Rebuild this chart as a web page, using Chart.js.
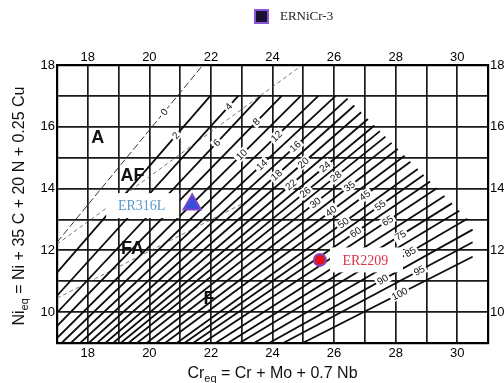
<!DOCTYPE html>
<html>
<head>
<meta charset="utf-8">
<script src="https://cdn.jsdelivr.net/npm/chart.js@4.4.1/dist/chart.umd.min.js"></script>
<style>
  html, body { margin: 0; padding: 0; background: #fff; }
  #wrap { width: 504px; height: 383px; }
</style>
</head>
<body>
<div id="wrap"><canvas id="chart" width="504" height="383"></canvas></div>
<script>
// Iso-ferrite lines (FN), each given by its lower and upper end (Cr_eq, Ni_eq)
const fnValues = [0, 2, 4, 6, 8, 10, 12, 14, 16, 18, 20, 22, 24, 26, 28, 30, 35, 40, 45, 50, 55, 60, 65, 70, 75, 80, 85, 90, 95, 100];
const lowCr  = [17, 17, 17, 17, 17, 17, 17.15, 17.45, 17.75, 18.03, 18.30, 18.57, 18.82, 19.07, 19.32, 19.60, 19.91, 20.22, 20.51, 20.89, 21.14, 21.42, 21.74, 22.15, 22.55, 22.93, 23.40, 23.89, 24.35, 24.98];
const lowNi  = [12.26, 11.28, 10.53, 9.98, 9.55, 9.16, 9, 9, 9, 9, 9, 9, 9, 9, 9, 9, 9, 9, 9, 9, 9, 9, 9, 9, 9, 9, 9, 9, 9, 9];
const highCr = [21.74, 21.98, 22.89, 23.62, 24.30, 24.92, 25.49, 26.05, 26.44, 26.66, 26.88, 27.10, 27.31, 27.49, 27.67, 27.87, 28.07, 28.29, 28.48, 28.72, 28.91, 29.12, 29.34, 29.59, 29.83, 30.07, 30.33, 30.50, 30.50, 30.50];
const highNi = [18, 17, 17, 17, 17, 17, 17, 17, 16.91, 16.69, 16.47, 16.25, 16.04, 15.86, 15.68, 15.48, 15.28, 15.06, 14.87, 14.63, 14.44, 14.23, 14.01, 13.76, 13.52, 13.28, 13.02, 12.67, 12.26, 11.79];

// Where the FN numbers sit along their lines (Cr_eq)
const labelFn = [0, 2, 4, 6, 8, 10, 12, 14, 16, 18, 20, 22, 24, 26, 28, 30, 35, 40, 45, 50, 55, 60, 65, 75, 85, 90, 95, 100];
const labelCr = [20.48, 20.86, 22.58, 22.19, 23.48, 23.0, 24.13, 23.65, 24.74, 24.13, 25.0, 24.6, 25.7, 25.06, 26.06, 25.39, 26.5, 25.9, 27.0, 26.3, 27.5, 26.7, 27.74, 28.16, 28.48, 27.58, 28.77, 28.13];

// Solidification mode boundaries (dashed)
const boundaryCr = [[17, 24.9], [17, 23.2]];
const boundaryNi = [[12.2, 17.95], [10.45, 13.6]];

// Region names
const regionText = ['A', 'AF', 'FA', 'F'];
const regionCr = [18.32, 19.45, 19.45, 21.94];
const regionNi = [15.65, 14.39, 12.03, 10.42];

// Filler metals
const er316L = { cr: 21.39, ni: 13.48 };
const er2209 = { cr: 25.54, ni: 11.69 };

// Axes
const crMin = 17, crMax = 31, niMin = 9, niMax = 18;
const crLabels = [18, 20, 22, 24, 26, 28, 30];
const niLabels = [10, 12, 14, 16, 18];

const sansFont = '"Liberation Sans", Arial, sans-serif';
const serifFont = '"Liberation Serif", "Times New Roman", serif';

const datasets = [
    {
        label: 'ER316L',
        data: [{ x: er316L.cr, y: er316L.ni }],
        pointStyle: 'triangle',
        pointRadius: 10,
        backgroundColor: '#3350d8',
        borderColor: '#7c44c8',
        borderWidth: 2,
        boxText: '#5a98c9',
        boxSide: 'left'
    },
    {
        label: 'ER2209',
        data: [{ x: er2209.cr, y: er2209.ni }],
        pointStyle: 'circle',
        pointRadius: 6,
        backgroundColor: '#e8101f',
        borderColor: '#7e4cb8',
        borderWidth: 2,
        boxText: '#d8344a',
        boxSide: 'right'
    },
    {
        label: 'ERNiCr-3',
        data: [],
        pointStyle: 'rect',
        backgroundColor: '#1b1030',
        borderColor: '#8c55d8',
        borderWidth: 2,
        inLegend: true
    }
];

fnValues.forEach((fn, i) => {
    datasets.push({
        label: 'FN ' + fn,
        data: [{ x: lowCr[i], y: lowNi[i] }, { x: highCr[i], y: highNi[i] }],
        showLine: true,
        borderColor: fn === 0 ? '#333' : '#0c0c0c',
        borderWidth: fn === 0 ? 1 : 1.8,
        borderDash: fn === 0 ? [7, 3] : [],
        pointRadius: 0
    });
});

boundaryCr.forEach((crs, i) => {
    datasets.push({
        label: 'boundary ' + i,
        data: [{ x: crs[0], y: boundaryNi[i][0] }, { x: crs[1], y: boundaryNi[i][1] }],
        showLine: true,
        borderColor: '#555',
        borderWidth: 0.8,
        borderDash: [4, 3],
        pointRadius: 0
    });
});

function axis(position, min, max, labels, extra) {
    return Object.assign({
        type: 'linear',
        position: position,
        min: min,
        max: max,
        ticks: {
            stepSize: 1,
            autoSkip: false,
            maxRotation: 0,
            color: '#000',
            font: { family: sansFont, size: 13 },
            callback: v => labels.includes(v) ? String(v) : ''
        },
        grid: { color: '#1a1a1a', lineWidth: 1.7, drawTicks: false },
        border: { display: true, color: '#000', width: 2.2 }
    }, extra);
}

const scales = {
    x: axis('bottom', crMin, crMax, crLabels, { afterFit: s => { s.height = 40; } }),
    x2: axis('top', crMin, crMax, crLabels, { afterFit: s => { s.height = 35; } }),
    y: axis('left', niMin, niMax, niLabels, { afterFit: s => { s.width = 57; } }),
    y2: axis('right', niMin, niMax, niLabels, { afterFit: s => { s.width = 16; } })
};
scales.x.ticks.padding = 3;
scales.x2.ticks.padding = 0;
scales.x2.grid = { display: false, drawTicks: false };
scales.y.ticks.padding = 2;
scales.y2.ticks.padding = 2;
scales.y2.grid = { display: false, drawTicks: false };

function lineAngleAt(chart, i, cr) {
    const { x, y } = chart.scales;
    const x1 = x.getPixelForValue(lowCr[i]), y1 = y.getPixelForValue(lowNi[i]);
    const x2 = x.getPixelForValue(highCr[i]), y2 = y.getPixelForValue(highNi[i]);
    const px = x.getPixelForValue(cr);
    const t = (px - x1) / (x2 - x1);
    return { px: px, py: y1 + t * (y2 - y1), ang: Math.atan2(y2 - y1, x2 - x1) };
}

const annotate = {
    id: 'annotate',
    afterDatasetsDraw(chart) {
        const { ctx, scales: { x, y } } = chart;
        ctx.save();

        // FN numbers on the iso-ferrite lines
        ctx.font = '10px ' + sansFont;
        ctx.textAlign = 'center';
        ctx.textBaseline = 'middle';
        labelFn.forEach((fn, k) => {
            const i = fnValues.indexOf(fn);
            const p = lineAngleAt(chart, i, labelCr[k]);
            const text = String(fn);
            const w = ctx.measureText(text).width;
            ctx.save();
            ctx.translate(p.px, p.py);
            ctx.rotate(p.ang);
            ctx.fillStyle = '#fff';
            ctx.fillRect(-w / 2 - 2, -5, w + 4, 10);
            ctx.fillStyle = '#111';
            ctx.fillText(text, 0, 0.5);
            ctx.restore();
        });

        // Region names
        ctx.font = 'bold 18px ' + sansFont;
        ctx.fillStyle = '#111';
        regionText.forEach((t, i) => {
            ctx.fillText(t, x.getPixelForValue(regionCr[i]), y.getPixelForValue(regionNi[i]));
        });

        // Name boxes next to the filler metal points
        ctx.font = '14px ' + serifFont;
        chart.data.datasets.forEach((ds, di) => {
            if (!ds.boxSide || !ds.data.length) return;
            const pt = chart.getDatasetMeta(di).data[0];
            const w = 73, h = 25;
            const left = ds.boxSide === 'left' ? pt.x - 13 - w : pt.x + 10;
            const top = pt.y - h / 2 + (ds.boxSide === 'left' ? 1 : 0);
            ctx.fillStyle = '#fff';
            ctx.fillRect(left, top, w, h);
            ctx.fillStyle = ds.boxText;
            ctx.fillText(ds.label, left + w / 2 - 1, top + h / 2 + 1);
        });
        ctx.restore();
    },
    afterDraw(chart) {
        const { ctx, chartArea: area } = chart;
        ctx.save();
        ctx.fillStyle = '#111';
        ctx.textBaseline = 'alphabetic';

        // Bottom axis title: Cr_eq = Cr + Mo + 0.7 Nb
        const main = '16px ' + sansFont, sub = '11px ' + sansFont;
        const xParts = [['Cr', main, 0], ['eq', sub, 4], [' = Cr + Mo + 0.7 Nb', main, 0]];
        drawParts(ctx, xParts, (area.left + area.right) / 2, 378, 0);

        // Left axis title: Ni_eq = Ni + 35 C + 20 N + 0.25 Cu
        const yParts = [['Ni', main, 0], ['eq', sub, 4], [' = Ni + 35 C + 20 N + 0.25 Cu', main, 0]];
        drawParts(ctx, yParts, 24, (area.top + area.bottom) / 2 + 2, -Math.PI / 2);

        // Legend entry
        const ds = chart.data.datasets.find(d => d.inLegend);
        ctx.fillStyle = ds.borderColor;
        ctx.fillRect(254, 9, 15, 15);
        ctx.fillStyle = ds.backgroundColor;
        ctx.fillRect(256, 11, 11, 11);
        ctx.fillStyle = '#222';
        ctx.font = '13px ' + serifFont;
        ctx.textAlign = 'left';
        ctx.textBaseline = 'middle';
        ctx.fillText(ds.label, 280, 17);
        ctx.restore();
    }
};

function drawParts(ctx, parts, cx, cy, rot) {
    let total = 0;
    parts.forEach(p => { ctx.font = p[1]; total += ctx.measureText(p[0]).width; });
    ctx.save();
    ctx.translate(cx, cy);
    ctx.rotate(rot);
    ctx.textAlign = 'left';
    let pos = -total / 2;
    parts.forEach(p => {
        ctx.font = p[1];
        ctx.fillText(p[0], pos, p[2]);
        pos += ctx.measureText(p[0]).width;
    });
    ctx.restore();
}

new Chart(document.getElementById('chart'), {
    type: 'scatter',
    data: { datasets: datasets },
    options: {
        responsive: false,
        animation: false,
        events: [],
        layout: { padding: { top: 30 } },
        scales: scales,
        plugins: {
            legend: { display: false },
            tooltip: { enabled: false }
        }
    },
    plugins: [annotate]
});
</script>
</body>
</html>
